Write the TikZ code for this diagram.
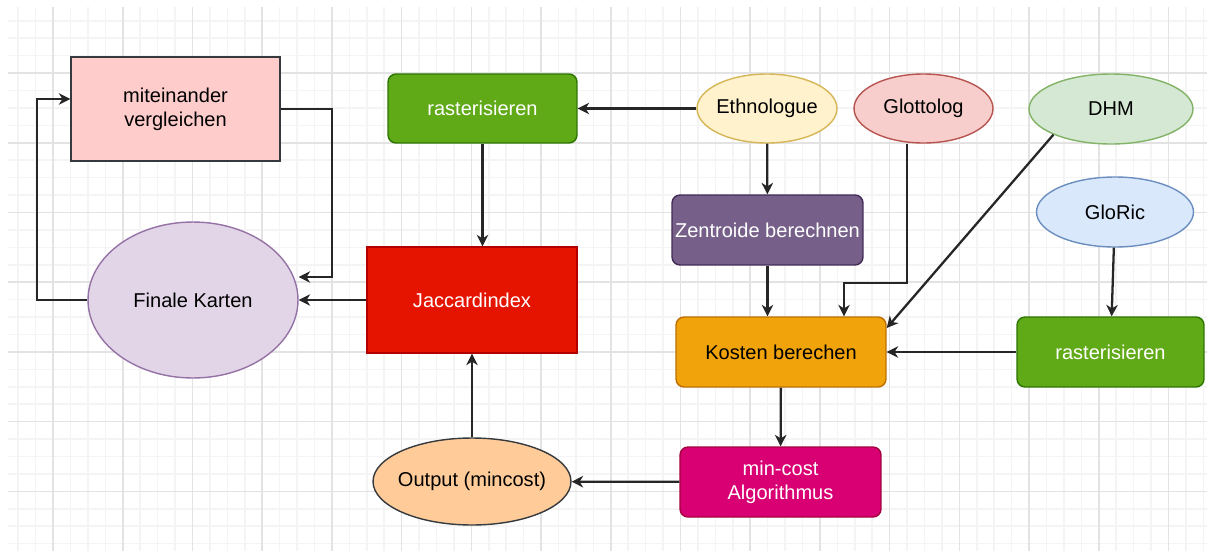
\documentclass[tikz,border=0pt]{standalone}
\usepackage{fontspec}
\setmainfont{Liberation Sans}
\usetikzlibrary{shapes.geometric, arrows.meta}

\definecolor{gridmin}{HTML}{F4F4F4}
\definecolor{gridmaj}{HTML}{E3E3E3}
\definecolor{darkline}{HTML}{36393D}
\definecolor{greenfill}{HTML}{60A917}
\definecolor{greenline}{HTML}{2D7600}

\begin{document}
\begin{tikzpicture}[x=0.02cm, y=-0.02cm,
    every node/.style={font=\fontsize{11.4}{13.8}\selectfont, align=center, line width=0.8pt},
    procbox/.style={rectangle, draw, rounded corners=0.16cm, inner sep=0pt},
    flatbox/.style={rectangle, draw, inner sep=0pt},
    databell/.style={ellipse, draw, inner sep=0pt},
    arr/.style={-{Stealth[length=6.5pt, width=6.5pt, inset=2pt]}, line width=1.3pt, draw=black!85}]
        \useasboundingbox (0,0) rectangle (1214,558);
        \fill[white] (0,0) rectangle (1214,558);
        
        % background grid
        \begin{scope}
            \clip (8,7) rectangle (1207,551);
            \foreach \k in {-2,...,66} {\draw[gridmin, line width=0.9pt] ({53+17.43*\k},7) -- ({53+17.43*\k},551);}
            \foreach \k in {-3,...,27} {\draw[gridmin, line width=0.9pt] (8,{73+17.43*\k}) -- (1207,{73+17.43*\k});}
            \foreach \k in {0,...,16} {\draw[gridmaj, line width=0.9pt] ({53+69.72*\k},7) -- ({53+69.72*\k},551);}
            \foreach \k in {0,...,6} {\draw[gridmaj, line width=0.9pt] (8,{73+69.72*\k}) -- (1207,{73+69.72*\k});}
        \end{scope}
        
        % data sources
        \node[databell, fill={rgb,255:red,255;green,242;blue,204}, draw={rgb,255:red,214;green,182;blue,86}, minimum width=2.80cm, minimum height=1.38cm] (eth) at (767,108.5) {\makebox[0pt]{Ethnologue}};
        \node[databell, fill={rgb,255:red,248;green,206;blue,204}, draw={rgb,255:red,184;green,84;blue,80}, minimum width=2.78cm, minimum height=1.38cm] (glo) at (923.5,108.5) {\makebox[0pt]{Glottolog}};
        \node[databell, fill={rgb,255:red,213;green,232;blue,212}, draw={rgb,255:red,130;green,179;blue,102}, minimum width=3.28cm, minimum height=1.40cm] (dhm) at (1111,109) {\makebox[0pt]{DHM}};
        \node[databell, fill={rgb,255:red,218;green,232;blue,252}, draw={rgb,255:red,108;green,142;blue,191}, minimum width=3.14cm, minimum height=1.40cm] (glr) at (1115,212) {\makebox[0pt]{GloRic}};
        
        % processing steps
        \node[flatbox, fill={rgb,255:red,255;green,204;blue,204}, draw=darkline, minimum width=4.18cm, minimum height=2.08cm] (mit) at (175.5,109) {miteinander\\vergleichen};
        \node[procbox, fill=greenfill, draw=greenline, text=white, minimum width=3.78cm, minimum height=1.38cm] (rasA) at (482.5,108.5) {rasterisieren};
        \node[procbox, fill={rgb,255:red,118;green,96;blue,138}, draw={rgb,255:red,67;green,45;blue,87}, text=white, minimum width=3.82cm, minimum height=1.40cm] (zen) at (767.5,230) {Zentroide berechnen};
        \node[flatbox, fill={rgb,255:red,229;green,20;blue,0}, draw={rgb,255:red,178;green,0;blue,0}, text=white, minimum width=4.20cm, minimum height=2.12cm] (jac) at (472,300) {Jaccardindex};
        \node[databell, fill={rgb,255:red,225;green,213;blue,231}, draw={rgb,255:red,150;green,115;blue,166}, minimum width=4.20cm, minimum height=3.12cm] (fin) at (193,300) {\makebox[0pt]{Finale Karten}};
        \node[procbox, fill={rgb,255:red,240;green,163;blue,10}, draw={rgb,255:red,189;green,112;blue,0}, minimum width=4.20cm, minimum height=1.40cm] (kos) at (781,352) {Kosten berechen};
        \node[procbox, fill=greenfill, draw=greenline, text=white, minimum width=3.74cm, minimum height=1.40cm] (rasB) at (1110.5,352) {rasterisieren};
        \node[procbox, fill={rgb,255:red,216;green,0;blue,115}, draw={rgb,255:red,165;green,0;blue,64}, text=white, minimum width=4.02cm, minimum height=1.40cm] (mcf) at (780.5,482) {min-cost\\Algorithmus};
        \node[databell, fill={rgb,255:red,255;green,204;blue,153}, draw=darkline, minimum width=3.96cm, minimum height=1.74cm] (out) at (472,481.5) {\makebox[0pt]{Output (mincost)}};
        
        % bend points
        \coordinate (gbend) at (844,283);
        \coordinate (mright) at (332,277);
        \coordinate (fleft) at (37,99);
        
        \draw[arr] (eth) -- (rasA);
        \draw[arr] (eth) -- (zen);
        \draw[arr] (zen.south) -- (zen.south |- kos.north);
        \draw[arr] ([xshift=-0.33cm]glo.south) |- (gbend) -- (gbend |- kos.north);
        \draw[arr] (dhm.204) -- ([yshift=0.48cm]kos.east);
        \draw[arr] (glr) -- (rasB);
        \draw[arr] (rasB) -- (kos);
        \draw[arr] (kos) -- (mcf);
        \draw[arr] (mcf) -- (out);
        \draw[arr] (out) -- (jac);
        \draw[arr] (rasA.south) -- (rasA.south |- jac.north);
        \draw[arr] (jac) -- (fin);
        \draw[arr] (mit.east) -| (mright) -- (mright -| fin.east);
        \draw[arr] (fin.west) -| (fleft) -- (fleft -| mit.west);
    \end{tikzpicture}
\end{document}
